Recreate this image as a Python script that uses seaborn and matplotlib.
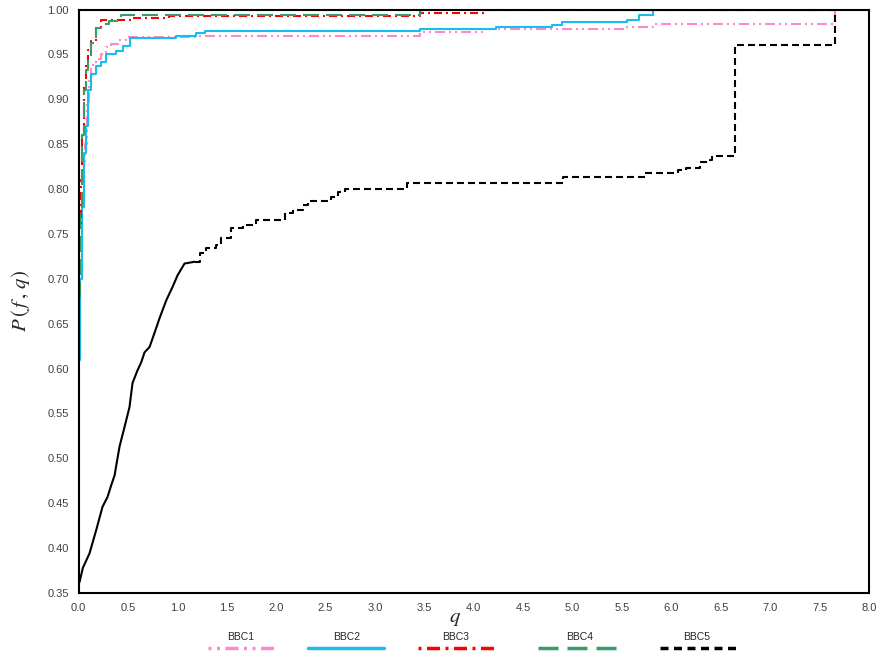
import matplotlib
matplotlib.use("Agg")
import matplotlib.pyplot as plt
from matplotlib.lines import Line2D
import numpy as np
import pandas as pd
import seaborn as sns

# --- Data (performance profile, step curves: value holds from q onward) ---
SERIES = ["BBC1", "BBC2", "BBC3", "BBC4", "BBC5"]

bbc1_q = [0.0, 0.01, 0.02, 0.04, 0.06, 0.07, 0.09, 0.11, 0.13, 0.15, 0.19, 0.23, 0.28,
          0.33, 0.40, 0.48, 1.19, 3.46, 4.10, 5.55, 5.81, 7.66]
bbc1_p = [0.59, 0.65, 0.72, 0.78, 0.83, 0.85, 0.897, 0.92, 0.935, 0.941, 0.945, 0.950, 0.958,
          0.962, 0.966, 0.969, 0.971, 0.975, 0.978, 0.980, 0.984, 1.0]

bbc2_q = [0.0, 0.02, 0.04, 0.06, 0.08, 0.10, 0.13, 0.18, 0.23, 0.28, 0.38, 0.45, 0.52,
          0.99, 1.19, 1.28, 3.46, 4.23, 4.79, 4.89, 5.55, 5.67, 5.81, 7.66]
bbc2_p = [0.61, 0.70, 0.78, 0.84, 0.87, 0.91, 0.928, 0.937, 0.941, 0.950, 0.954, 0.959, 0.968,
          0.971, 0.974, 0.976, 0.978, 0.981, 0.983, 0.986, 0.988, 0.994, 1.0, 1.0]

bbc3_q = [0.0, 0.01, 0.023, 0.04, 0.058, 0.08, 0.10, 0.13, 0.18, 0.23, 0.53, 0.92, 3.46, 4.10, 7.66]
bbc3_p = [0.71, 0.76, 0.81, 0.86, 0.917, 0.94, 0.955, 0.965, 0.979, 0.988, 0.990, 0.993, 0.996, 1.0, 1.0]

bbc4_q = [0.0, 0.02, 0.04, 0.06, 0.08, 0.10, 0.13, 0.18, 0.23, 0.31, 0.40, 0.43, 3.46, 7.66]
bbc4_p = [0.68, 0.78, 0.86, 0.91, 0.933, 0.944, 0.963, 0.979, 0.984, 0.987, 0.9895, 0.994, 1.0, 1.0]

bbc5_q = [0.0, 0.01, 0.044, 0.111, 0.179, 0.243, 0.294, 0.331, 0.365, 0.415, 0.466, 0.516,
          0.547, 0.597, 0.635, 0.668, 0.719, 0.770, 0.820, 0.888, 0.952, 1.003, 1.073, 1.175,
          1.225, 1.293, 1.394, 1.445, 1.546, 1.661, 1.80, 2.086, 2.167, 2.268, 2.319, 2.559,
          2.623, 2.694, 3.32, 4.90, 5.73, 6.07, 6.15, 6.29, 6.39, 6.41, 6.64, 7.66]
bbc5_p = [0.361, 0.362, 0.378, 0.394, 0.420, 0.446, 0.457, 0.470, 0.481, 0.513, 0.535, 0.557,
          0.584, 0.598, 0.607, 0.618, 0.624, 0.640, 0.656, 0.676, 0.691, 0.704, 0.717, 0.719,
          0.729, 0.734, 0.738, 0.745, 0.757, 0.760, 0.766, 0.773, 0.777, 0.782, 0.787, 0.791,
          0.797, 0.800, 0.807, 0.813, 0.818, 0.821, 0.823, 0.830, 0.832, 0.837, 0.960, 1.0]

X_TICKS = np.arange(0, 8.01, 0.5)
Y_TICKS = np.arange(0.35, 1.001, 0.05)

# --- Styles ---
PALETTE = {"BBC1": "#FF88CC", "BBC2": "#18BDF0", "BBC3": "#FF0000",
           "BBC4": "#3A9B6A", "BBC5": "#000000"}
LINE_W = 1.5
# dash patterns in pixels (on, off, ...)
DASH_PX = {"BBC1": (10, 4, 2, 4, 2, 4), "BBC2": "", "BBC3": (8, 4, 2, 4),
           "BBC4": (16, 7), "BBC5": (7, 4)}
LEGEND_DASH_PX = {"BBC1": (3, 5.5, 3, 5.5, 13, 5.5), "BBC2": "", "BBC3": (3, 5.5, 13, 5.5),
                  "BBC4": (20, 9), "BBC5": (8, 5.5)}
# the steep start of BBC5 reads as a solid jagged line in the source
BBC5_SOLID_UNTIL = 1.175


def px_to_dashes(pattern, lw):
    if pattern == "":
        return ""
    return tuple(v / lw * 0.72 for v in pattern)


frames = []
for name, q, p in zip(SERIES, [bbc1_q, bbc2_q, bbc3_q, bbc4_q, bbc5_q],
                      [bbc1_p, bbc2_p, bbc3_p, bbc4_p, bbc5_p]):
    frames.append(pd.DataFrame({"series": name, "q": q, "P": p}))
df = pd.concat(frames, ignore_index=True)

is_bbc5 = df["series"] == "BBC5"
early = df[is_bbc5 & (df["q"] <= BBC5_SOLID_UNTIL)]
main = df[~is_bbc5 | (df["q"] >= BBC5_SOLID_UNTIL)]

sns.set_style("white")
plt.rcParams["mathtext.fontset"] = "stix"
plt.rcParams["font.family"] = ["Liberation Sans", "DejaVu Sans"]

W, H = 880, 655
fig = plt.figure(figsize=(W / 100, H / 100), dpi=100)
ax = fig.add_axes([78.5 / W, 1 - 593 / H, (869 - 78.5) / W, (593 - 9.5) / H])

dashes = {k: px_to_dashes(v, LINE_W) for k, v in DASH_PX.items()}
sns.lineplot(data=main, x="q", y="P", hue="series", style="series",
             hue_order=SERIES, style_order=SERIES, palette=PALETTE, dashes=dashes,
             estimator=None, sort=False, drawstyle="steps-post", lw=LINE_W,
             legend=False, ax=ax)

# steep early part of BBC5: solid, jagged slope
sns.lineplot(data=early, x="q", y="P", color="black", estimator=None, sort=False,
             lw=LINE_W, ax=ax)

ax.set_xlim(0, 8)
ax.set_ylim(0.35, 1.0)
ax.set_xticks(X_TICKS)
ax.set_yticks(Y_TICKS)
ax.set_xticklabels([f"{v:.1f}" for v in X_TICKS])
ax.set_yticklabels([f"{v:.2f}" for v in Y_TICKS])
ax.tick_params(direction="in", length=4, width=1, color="black",
               labelsize=8, labelcolor="#404040", pad=7)
for side in ["left", "bottom", "top", "right"]:
    ax.spines[side].set_visible(True)
    ax.spines[side].set_color("black")
    ax.spines[side].set_linewidth(1.5)

ax.set_xlabel(r"$q$", fontsize=15)
ax.xaxis.set_label_coords((455 - 78.5) / 790.5, (593 - 619) / 583.5)
ax.xaxis.label.set_va("center")
ax.set_ylabel(r"$P\,(\,f\,,\,q)$", fontsize=15)
ax.yaxis.set_label_coords((20 - 78.5) / 790.5, 0.5)
ax.yaxis.label.set_va("center")

# --- Legend below the axes: label above each line sample ---
legend_text_x = [241, 347, 456, 580, 697]
legend_line_x = [(208, 277), (308, 384), (418, 499), (538, 620), (660, 738)]
legend_lw = 2.5
for name, tx, (x0, x1) in zip(SERIES, legend_text_x, legend_line_x):
    fig.text(tx / W, 1 - 637 / H, name, ha="center", va="center",
             fontsize=7.5, color="#262626")
    pat = px_to_dashes(LEGEND_DASH_PX[name], legend_lw)
    ls = "-" if pat == "" else (0, pat)
    fig.add_artist(Line2D([x0 / W, x1 / W], [1 - 648 / H, 1 - 648 / H],
                          transform=fig.transFigure, color=PALETTE[name],
                          lw=legend_lw, linestyle=ls))

fig.savefig("out.png", dpi=100)
